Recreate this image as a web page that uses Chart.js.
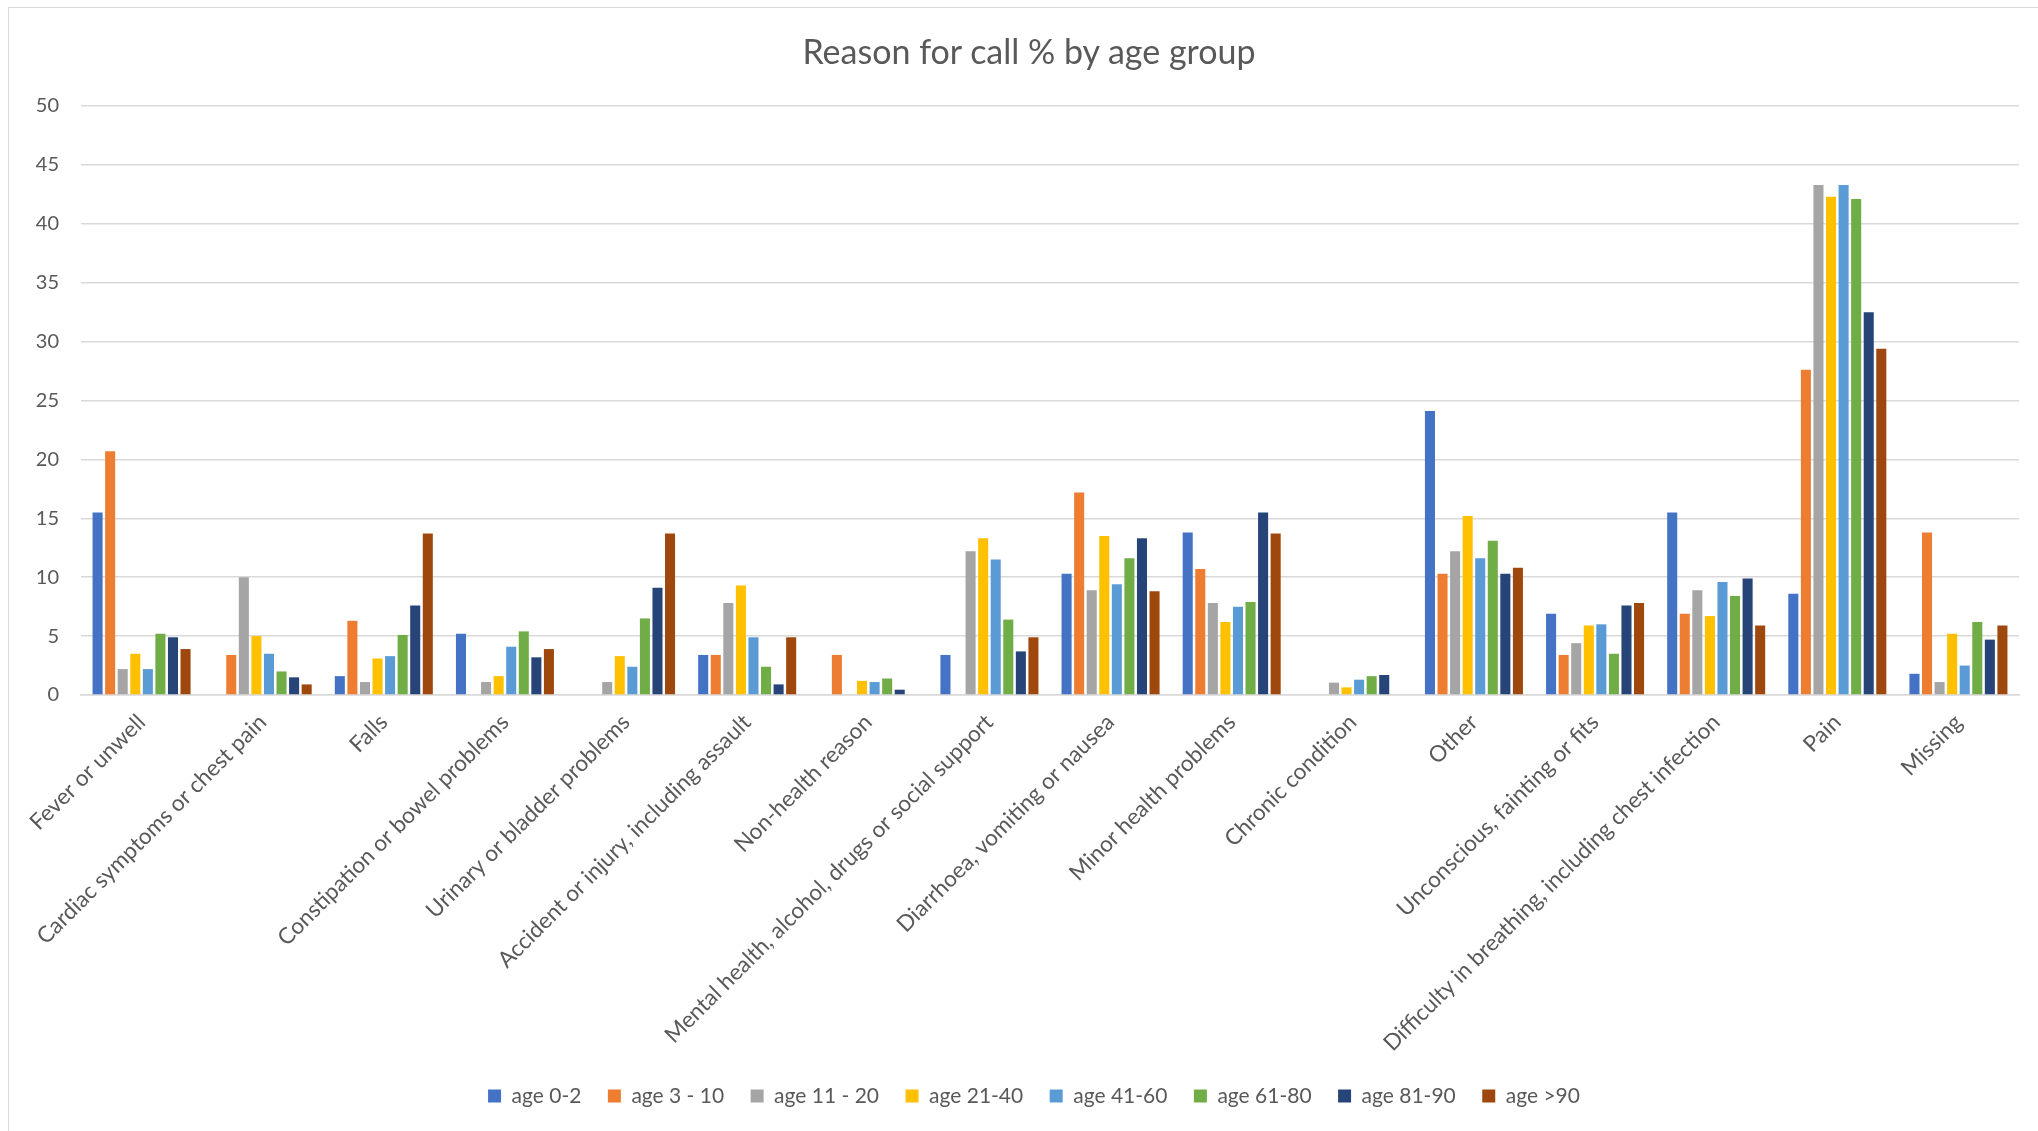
<!DOCTYPE html>
<html><head><meta charset="utf-8">
<script src="https://cdn.jsdelivr.net/npm/chart.js@4/dist/chart.umd.min.js"></script>
<style>
html,body{margin:0;padding:0;background:#fff;overflow:hidden}
#wrap{position:relative;width:2038px;height:1131px;overflow:hidden}
#frame{position:absolute;left:8px;top:7px;width:2060px;height:1160px;border:1.5px solid #d9d9d9;box-sizing:border-box}
#title{position:absolute;left:0;top:31px;width:2058px;text-align:center;font-family:Lato,'Open Sans',sans-serif;font-size:34px;line-height:40px;color:#595959;z-index:2}
canvas{position:absolute;left:0;top:0}
</style></head><body>
<div id="wrap"><div id="frame"></div><div id="title">Reason for call % by age group</div><canvas id="c" width="2038" height="1131"></canvas></div>
<script>
const categories = ["Fever or unwell","Cardiac symptoms or chest pain","Falls","Constipation or bowel problems","Urinary or bladder problems","Accident or injury, including assault","Non-health reason","Mental health, alcohol, drugs or social support","Diarrhoea, vomiting or nausea","Minor health problems","Chronic condition","Other","Unconscious, fainting or fits","Difficulty in breathing, including chest infection","Pain","Missing"];
const seriesNames = ["age 0-2","age 3 - 10","age 11 - 20","age 21-40","age 41-60","age 61-80","age 81-90","age >90"];
const age0_2   = [15.5, null, 1.6, 5.2, null, 3.4, null, 3.4, 10.3, 13.8, null, 24.1, 6.9, 15.5, 8.6, 1.8];
const age3_10  = [20.7, 3.4, 6.3, null, null, 3.4, 3.4, null, 17.2, 10.7, null, 10.3, 3.4, 6.9, 27.6, 13.8];
const age11_20 = [2.2, 10.0, 1.1, 1.1, 1.1, 7.8, null, 12.2, 8.9, 7.8, 1.05, 12.2, 4.4, 8.9, 43.3, 1.1];
const age21_40 = [3.5, 5.0, 3.1, 1.6, 3.3, 9.3, 1.2, 13.3, 13.5, 6.2, 0.65, 15.2, 5.9, 6.7, 42.3, 5.2];
const age41_60 = [2.2, 3.5, 3.3, 4.1, 2.4, 4.9, 1.1, 11.5, 9.4, 7.5, 1.3, 11.6, 6.0, 9.6, 43.3, 2.5];
const age61_80 = [5.2, 2.0, 5.1, 5.4, 6.5, 2.4, 1.4, 6.4, 11.6, 7.9, 1.6, 13.1, 3.5, 8.4, 42.1, 6.2];
const age81_90 = [4.9, 1.5, 7.6, 3.2, 9.1, 0.9, 0.45, 3.7, 13.3, 15.5, 1.7, 10.3, 7.6, 9.9, 32.5, 4.7];
const age90    = [3.9, 0.9, 13.7, 3.9, 13.7, 4.9, null, 4.9, 8.8, 13.7, null, 10.8, 7.8, 5.9, 29.4, 5.9];
const seriesValues = [age0_2, age3_10, age11_20, age21_40, age41_60, age61_80, age81_90, age90];
const colors = ["#4472C4","#ED7D31","#A5A5A5","#FFC000","#5B9BD5","#70AD47","#264478","#9E480E"];

const FONT = "Lato, 'Open Sans', sans-serif";
const TXT = "#595959";

const legendShift = {
  id: 'legendShift',
  afterLayout(chart) {
    const l = chart.legend;
    if (l) { l.left += 24.5; l.right += 24.5; }
  }
};

new Chart(document.getElementById('c'), {
  type: 'bar',
  data: {
    labels: categories,
    datasets: seriesNames.map((n, i) => ({
      label: n,
      data: seriesValues[i],
      backgroundColor: colors[i],
      borderWidth: 0,
      categoryPercentage: 0.83,
      barPercentage: 0.8
    }))
  },
  plugins: [legendShift],
  options: {
    responsive: false,
    animation: false,
    layout: { padding: { left: 0, right: 19, top: 106, bottom: 14.5 } },
    plugins: {
      title: { display: false },
      legend: {
        position: 'bottom',
        labels: {
          color: TXT,
          font: { family: FONT, size: 21 },
          boxWidth: 13, boxHeight: 13,
          padding: 26.5
        }
      },
      tooltip: { enabled: false }
    },
    scales: {
      x: {
        grid: { display: false },
        border: { display: true, color: '#d9d9d9', width: 1.5 },
        ticks: { color: TXT, font: { family: FONT, size: 22.5 }, maxRotation: 45, minRotation: 45, autoSkip: false, padding: 6 },
        afterFit: (a) => { a.height = 364; }
      },
      y: {
        min: 0, max: 50,
        grid: { color: '#d9d9d9', lineWidth: 1.5, drawTicks: false },
        border: { display: false },
        ticks: { stepSize: 5, color: TXT, font: { family: FONT, size: 20 }, padding: 22 },
        afterFit: (a) => { a.width = 81; }
      }
    }
  }
});
</script>
</body></html>
